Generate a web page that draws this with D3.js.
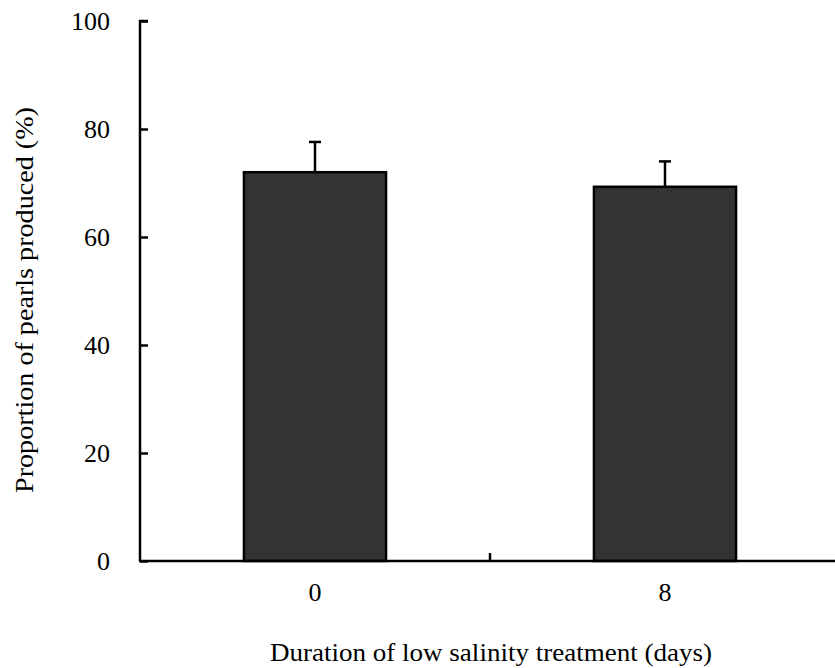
<!DOCTYPE html>
<html>
<head>
<meta charset="utf-8">
<script src="https://cdn.jsdelivr.net/npm/d3@7"></script>
<style>
  html, body { margin: 0; padding: 0; background: #fff; }
  text { font-family: "Liberation Serif", "Times New Roman", serif; fill: #000; }
</style>
</head>
<body>
<svg id="chart" width="835" height="668"></svg>
<script>
const categories = ["0", "8"];
const means = [72.0, 69.3];
const errors = [5.6, 4.7];
const yTicks = [0, 20, 40, 60, 80, 100];
const xTitle = "Duration of low salinity treatment (days)";
const yTitle = "Proportion of pearls produced (%)";

(function () {
const svg = d3.select("#chart");
const mLeft = 140, mRight = 840, mTop = 21, mBottom = 561;

const x = d3.scaleBand().domain(categories).range([mLeft, mRight])
  .paddingInner(0.594).paddingOuter(0.297);
const y = d3.scaleLinear().domain([0, 100]).range([mBottom, mTop]);

// bars
svg.append("g").selectAll("rect").data(categories).join("rect")
  .attr("x", d => x(d))
  .attr("y", (d, i) => y(means[i]))
  .attr("width", x.bandwidth())
  .attr("height", (d, i) => y(0) - y(means[i]))
  .attr("fill", "#333333")
  .attr("stroke", "#000")
  .attr("stroke-width", 2.5);

// error bars
const eg = svg.append("g").attr("stroke", "#000").attr("stroke-width", 2.5);
categories.forEach((c, i) => {
  const cx = x(c) + x.bandwidth() / 2;
  eg.append("line").attr("x1", cx).attr("x2", cx)
    .attr("y1", y(means[i])).attr("y2", y(means[i] + errors[i]));
  eg.append("line").attr("x1", cx - 6).attr("x2", cx + 6)
    .attr("y1", y(means[i] + errors[i])).attr("y2", y(means[i] + errors[i]));
});

// y axis
const yAxis = d3.axisRight(y).tickValues(yTicks).tickSize(8).tickFormat("");
const yg = svg.append("g").attr("transform", `translate(${mLeft},0)`).call(yAxis);
yg.select(".domain").attr("stroke", "#000").attr("stroke-width", 2.5)
  .attr("d", `M8,${y(100)}H0V${y(0)}`);
yg.selectAll(".tick line").attr("stroke", "#000").attr("stroke-width", 2.5);

svg.append("g").selectAll("text").data(yTicks).join("text")
  .attr("x", 110).attr("y", d => y(d))
  .attr("dy", "0.34em")
  .attr("text-anchor", "end")
  .attr("font-size", 26)
  .text(d => d);

// x axis
svg.append("line").attr("x1", mLeft - 1).attr("x2", 835)
  .attr("y1", mBottom).attr("y2", mBottom)
  .attr("stroke", "#000").attr("stroke-width", 2.5);
const midX = (x(categories[0]) + x.bandwidth() / 2 + x(categories[1]) + x.bandwidth() / 2) / 2;
svg.append("line").attr("x1", midX).attr("x2", midX)
  .attr("y1", mBottom).attr("y2", mBottom - 8)
  .attr("stroke", "#000").attr("stroke-width", 2.5);

svg.append("g").selectAll("text").data(categories).join("text")
  .attr("x", d => x(d) + x.bandwidth() / 2)
  .attr("y", 601)
  .attr("text-anchor", "middle")
  .attr("font-size", 26)
  .text(d => d);

// titles
svg.append("text")
  .attr("x", 491).attr("y", 661)
  .attr("text-anchor", "middle")
  .attr("font-size", 25)
  .attr("textLength", 442).attr("lengthAdjust", "spacingAndGlyphs")
  .text(xTitle);

svg.append("text")
  .attr("transform", "translate(33,300) rotate(-90)")
  .attr("text-anchor", "middle")
  .attr("font-size", 25)
  .attr("textLength", 386).attr("lengthAdjust", "spacingAndGlyphs")
  .text(yTitle);
})();
</script>
</body>
</html>
